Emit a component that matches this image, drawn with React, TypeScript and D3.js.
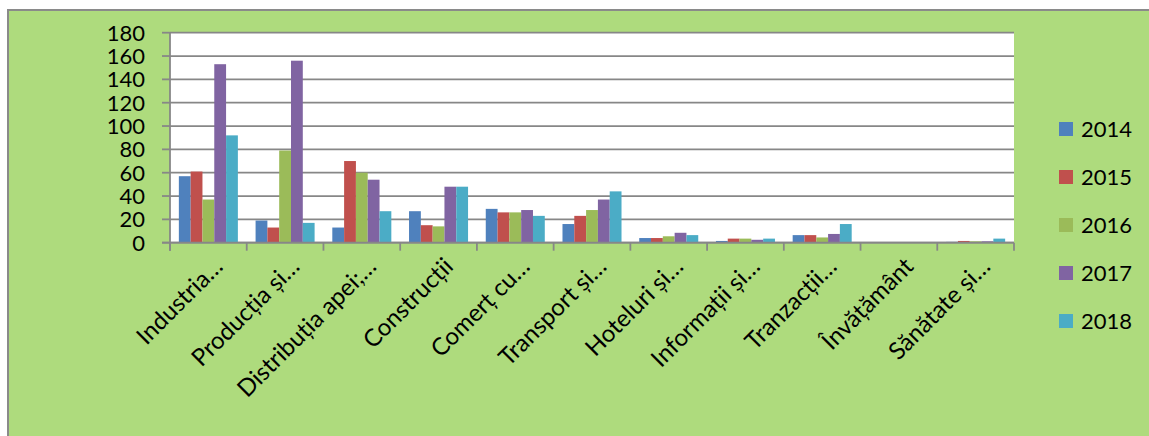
import React from "react";
import * as d3 from "d3";

const categories = [
  "Industria…",
  "Producția și…",
  "Distribuția apei;…",
  "Construcții",
  "Comerț cu…",
  "Transport și…",
  "Hoteluri și…",
  "Informații și…",
  "Tranzacții…",
  "Învățământ",
  "Sănătate și…",
];
const years = ["2014", "2015", "2016", "2017", "2018"];
const s2014 = [57, 19, 13, 27, 29, 16, 4, 1.5, 6.5, 0.4, 0.7];
const s2015 = [61, 13, 70, 15, 26, 23, 4, 3.5, 6.5, 0.6, 1.5];
const s2016 = [37, 79, 60, 14, 26, 28, 5.5, 3.5, 4.5, 0.4, 1.2];
const s2017 = [153, 156, 54, 48, 28, 37, 8.5, 2.5, 7.5, 0.4, 1.2];
const s2018 = [92, 17, 27, 48, 23, 44, 6.5, 3.5, 16, 0.4, 3.5];
const series = [s2014, s2015, s2016, s2017, s2018];
const colors = ["#4F81BD", "#C0504D", "#9BBB59", "#8064A2", "#4BACC6"];
const yTicks = [0, 20, 40, 60, 80, 100, 120, 140, 160, 180];

const W = 1149;
const H = 436;
const L = 170;
const R = 1014;
const T = 32.7;
const B = 242.7;
const FONT = "Lato, 'Open Sans', sans-serif";
const GRID = "#878787";

export default function App() {
  const y = d3.scaleLinear().domain([0, 180]).range([B, T]);
  const x = d3.scaleBand().domain(categories).range([L, R]).paddingInner(0).paddingOuter(0);
  const bw = x.bandwidth();
  const gap = (1.5 * bw) / 6.5;
  const x1 = d3.scaleBand().domain(years).range([gap / 2, bw - gap / 2]).padding(0);
  const boundaries = categories.map((c) => x(c) as number).concat([R]);

  return (
    <svg
      width={W}
      height={H}
      style={{ position: "absolute", left: 0, top: 0 }}
      fontFamily={FONT}
    >
      <rect x={8} y={10} width={1300} height={600} fill="#AEDB7D" stroke="#8a8a8a" strokeWidth={2} />
      <rect x={L} y={T} width={R - L} height={B - T} fill="#ffffff" />
      {yTicks.map((t) => (
        <g key={t}>
          <line x1={L} x2={R} y1={y(t)} y2={y(t)} stroke={GRID} strokeWidth={1.8} />
          <line x1={162} x2={L} y1={y(t)} y2={y(t)} stroke={GRID} strokeWidth={1.8} />
          <text x={145} y={y(t)} dy="0.36em" textAnchor="end" fontSize={22} fill="#000">
            {t}
          </text>
        </g>
      ))}
      {series.map((s, si) =>
        s.map((v, ci) => (
          <rect
            key={`${si}-${ci}`}
            x={(x(categories[ci]) as number) + (x1(years[si]) as number)}
            y={y(v)}
            width={x1.bandwidth()}
            height={B - y(v)}
            fill={colors[si]}
          />
        ))
      )}
      <line x1={L} x2={L} y1={T} y2={B + 8} stroke={GRID} strokeWidth={1.8} />
      <line x1={L - 8} x2={R} y1={B} y2={B} stroke={GRID} strokeWidth={1.8} />
      {boundaries.map((bx, i) => (
        <line key={i} x1={bx} x2={bx} y1={B} y2={B + 8} stroke={GRID} strokeWidth={1.8} />
      ))}
      {categories.map((c) => {
        const cx = (x(c) as number) + bw / 2 + 16;
        const cy = 268;
        return (
          <text
            key={c}
            x={cx}
            y={cy}
            textAnchor="end"
            fontSize={24}
            fill="#000"
            transform={`rotate(-45 ${cx} ${cy})`}
          >
            {c}
          </text>
        );
      })}
      {years.map((yr, i) => {
        const cy = 129 + i * 48;
        return (
          <g key={yr}>
            <rect x={1059} y={cy - 7} width={14} height={14} fill={colors[i]} />
            <text x={1081} y={cy} dy="0.36em" fontSize={22} fill="#000">
              {yr}
            </text>
          </g>
        );
      })}
    </svg>
  );
}
